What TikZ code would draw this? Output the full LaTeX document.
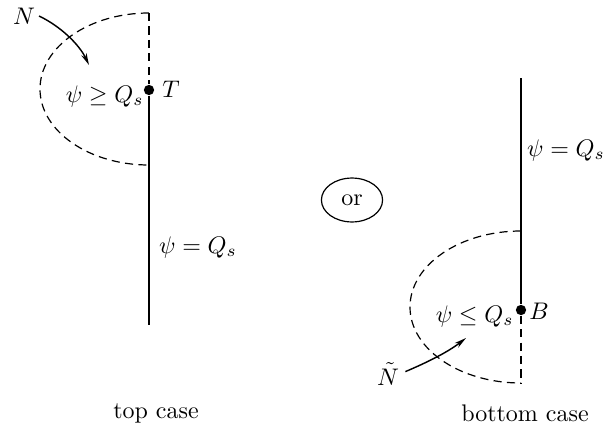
\documentclass[tikz,border=0pt]{standalone}
\usetikzlibrary{arrows.meta,shapes.geometric}
\begin{document}
\begin{tikzpicture}[x=0.4167pt,y=-0.4167pt,
  solidline/.style={line width=1pt},
  dashline/.style={line width=0.5pt,dash pattern=on 3.4pt off 2.2pt},
  flowarrow/.style={line width=0.6pt,-{Stealth[length=5pt,width=2.4pt]}},
  lbl/.style={inner sep=0pt},
  dotnode/.style={circle,fill,inner sep=0pt,minimum size=4.3pt},
  ornode/.style={ellipse,draw,line width=0.5pt,inner sep=0pt,minimum width=25.5pt,minimum height=18.3pt}]
\useasboundingbox (0,0) rectangle (604,439);
% ---------- top case ----------
\coordinate (Ltop) at (149,13);
\node[dotnode] (T) at (149,90) {};
\coordinate (Lbot) at (149,325);
\draw[dashline] (Ltop) -- (T);
\draw[solidline] (T) -- (Lbot);
\draw[dashline] (Ltop) arc[start angle=270,end angle=90,x radius=109,y radius=76];
\node[lbl] (Tl) at (171,89) {$T$};
\node[lbl,anchor=east] (ge) at (144,96) {$\psi\geq Q_s$};
\node[lbl] (eqL) at (198,247) {$\psi=Q_s$};
\node[lbl] (N) at (24,16) {$N$};
\coordinate (Ntip) at (89,65);
\draw[flowarrow] ([xshift=1.5pt]N.east) .. controls (60,26) and (79,44) .. (Ntip);
\node[lbl] (topcase) at (156,413) {top case};
% ---------- or ----------
\node[ornode] (or) at (352,200) {or};
% ---------- bottom case ----------
\coordinate (Rtop) at (521,78);
\node[dotnode] (B) at (521,310) {};
\coordinate (Rarc) at (521,231);
\coordinate (Rbot) at (521,383);
\draw[solidline] (Rtop) -- (B);
\draw[dashline] (B) -- (Rbot);
\draw[dashline] (Rarc) arc[start angle=270,end angle=90,x radius=111,y radius=76];
\node[lbl] (Bl) at (539,311) {$B$};
\node[lbl,anchor=east] (le) at (514,316) {$\psi\leq Q_s$};
\node[lbl] (eqR) at (566,150) {$\psi=Q_s$};
\node[lbl] (Nt) at (388,374) {$\tilde N$};
\coordinate (Nttip) at (466,338);
\draw[flowarrow] ([xshift=2.5pt,yshift=1pt]Nt.east) .. controls (428,362) and (448,352) .. (Nttip);
\node[lbl] (botcase) at (525,413) {bottom case};
\end{tikzpicture}
\end{document}
